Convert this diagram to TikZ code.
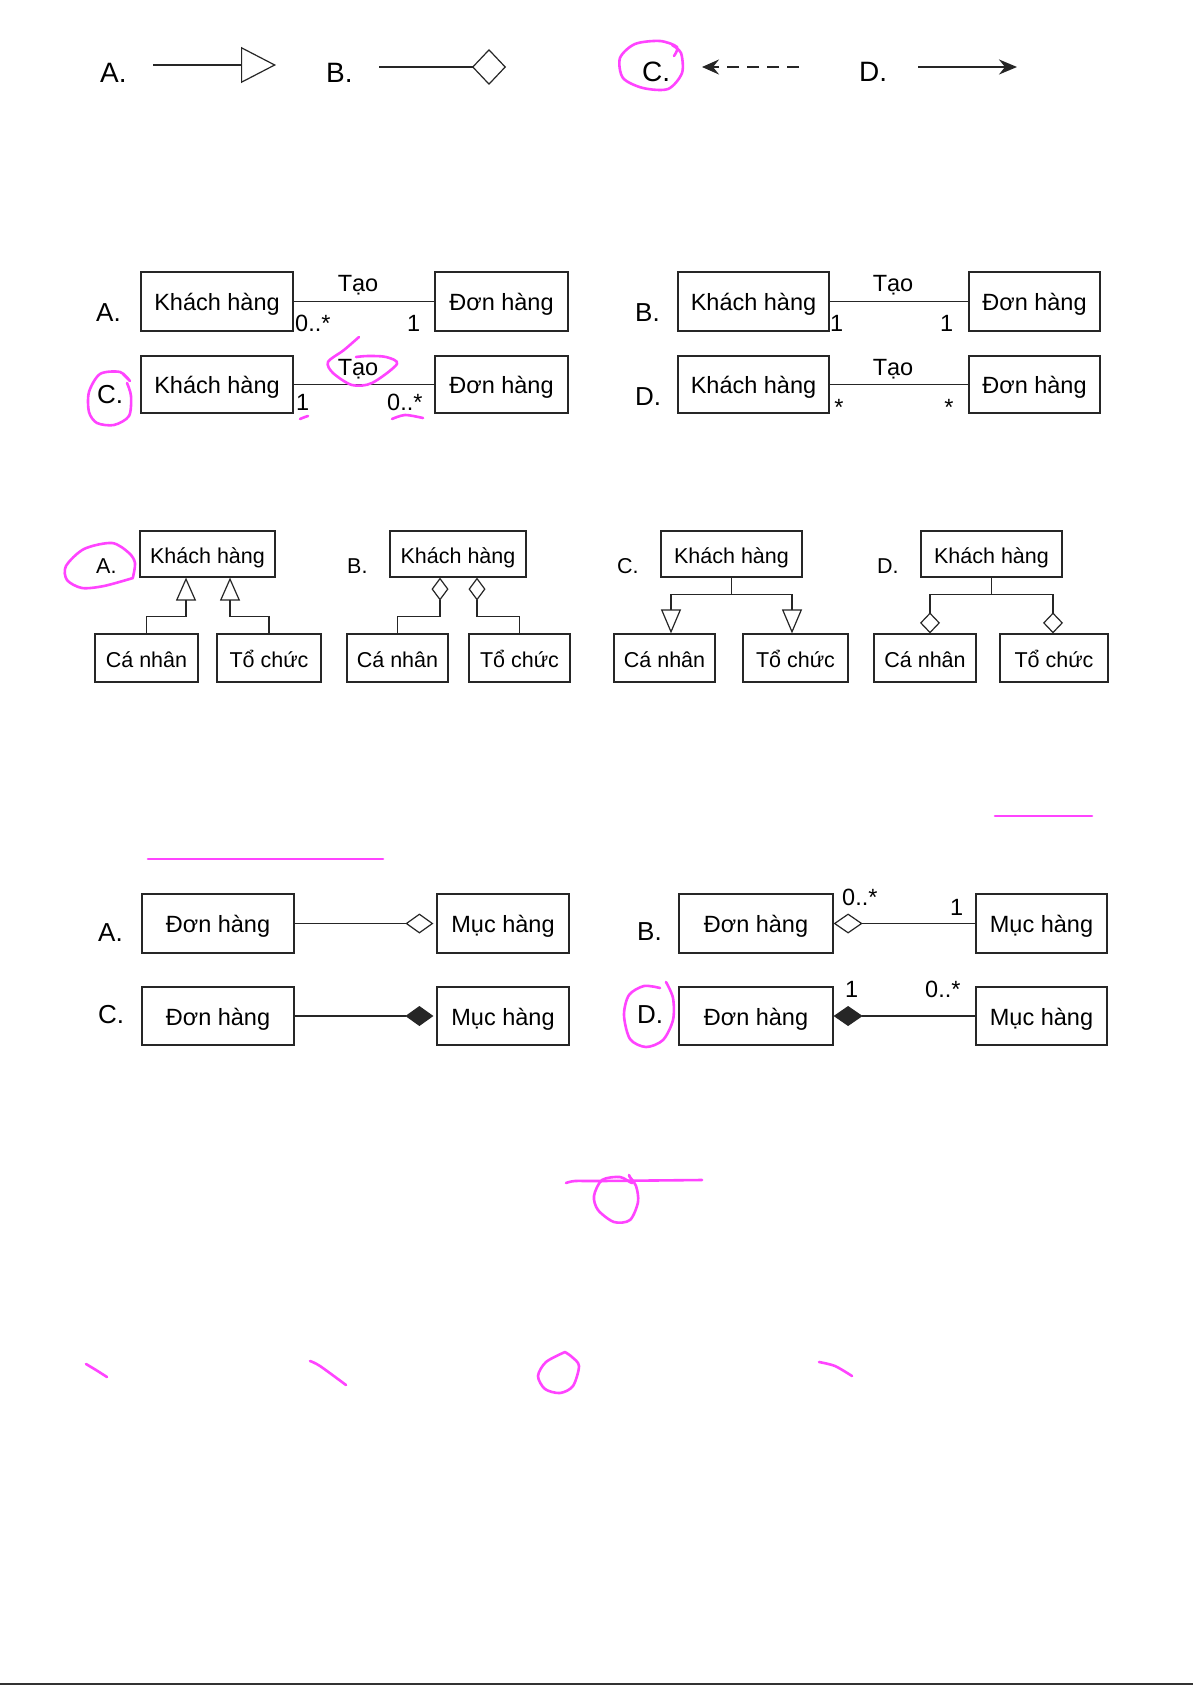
\documentclass[tikz,border=0pt]{standalone}
\usepackage{fontspec}
\setmainfont{Liberation Sans}
\usetikzlibrary{arrows.meta,calc}
\definecolor{penc}{RGB}{255,68,255}
\begin{document}
\begin{tikzpicture}[x=1pt,y=-1pt,
  ln/.style={line width=1.2pt, draw=black!85},
  box/.style={draw=black!85, line width=1.2pt, inner sep=0pt, text height=18pt, text depth=0pt, font=\fontsize{23.5}{28}\selectfont},
  sbox/.style={box, font=\fontsize{21.5}{25}\selectfont},
  lab/.style={anchor=base west, inner sep=0pt, font=\fontsize{26}{30}\selectfont},
  labtop/.style={lab, font=\fontsize{28}{32}\selectfont},
  labs/.style={lab, font=\fontsize{21.5}{25}\selectfont},
  mul/.style={anchor=base west, inner sep=0pt, font=\fontsize{23.5}{28}\selectfont},
  pen/.style={draw=penc, line width=2.6pt, line cap=round, line join=round},
]
\useasboundingbox (0,0) rectangle (1193,1685);
\fill[white] (0,0) rectangle (1193,1685);

% ---------- Row 1 ----------
\node[labtop] (t1a) at (100,83) {A.};
\coordinate (t1as) at (153,65); \coordinate (t1ae) at (276,65);
\draw[ln, -{Triangle[open,length=35pt,width=36pt]}] (t1as) -- (t1ae);
\node[labtop] (t1b) at (326,83) {B.};
\coordinate (t1bs) at (379,67); \coordinate (t1be) at (506,67);
\draw[ln, -{Diamond[open,length=34pt,width=36pt]}] (t1bs) -- (t1be);
\node[labtop] (t1c) at (642,82) {C.};
\coordinate (t1cs) at (799,67); \coordinate (t1ce) at (702,67);
\draw[line width=2.4pt, draw=black!85, dash pattern=on 12pt off 8pt, -{Stealth[length=17pt,width=15pt,inset=6pt]}] (t1cs) -- (t1ce);
\node[labtop] (t1d) at (859,82) {D.};
\coordinate (t1ds) at (918,67); \coordinate (t1de) at (1017,67);
\draw[line width=2.4pt, draw=black!85, -{Stealth[length=18pt,width=15pt,inset=6pt]}] (t1ds) -- (t1de);

% ---------- Row 2 ----------
\node[box, minimum width=152pt, minimum height=59pt] (a2k) at (217,301.5) {Khách hàng};
\node[box, minimum width=133pt, minimum height=59pt] (a2d) at (501.5,301.5) {Đơn hàng};
\draw[ln] (a2k) -- (a2d);
\node[mul, anchor=base] (a2t) at (358,292) {Tạo};
\node[mul] (a2m1) at (295,331) {0..*};
\node[mul] (a2m2) at (407,331) {1};
\node[lab] (a2l) at (96,321) {A.};

\node[box, minimum width=151pt, minimum height=59pt] (b2k) at (753.5,301.5) {Khách hàng};
\node[box, minimum width=131pt, minimum height=59pt] (b2d) at (1034.5,301.5) {Đơn hàng};
\draw[ln] (b2k) -- (b2d);
\node[mul, anchor=base] (b2t) at (893,292) {Tạo};
\node[mul] (b2m1) at (830,331) {1};
\node[mul] (b2m2) at (940,331) {1};
\node[lab] (b2l) at (635,321) {B.};

\node[box, minimum width=152pt, minimum height=57pt] (c2k) at (217,384.5) {Khách hàng};
\node[box, minimum width=133pt, minimum height=57pt] (c2d) at (501.5,384.5) {Đơn hàng};
\draw[ln] (c2k) -- (c2d);
\node[mul, anchor=base] (c2t) at (358,375) {Tạo};
\node[mul] (c2m1) at (296,410) {1};
\node[mul] (c2m2) at (387,410) {0..*};
\node[lab] (c2l) at (97,403) {C.};

\node[box, minimum width=151pt, minimum height=57pt] (d2k) at (753.5,384.5) {Khách hàng};
\node[box, minimum width=131pt, minimum height=57pt] (d2d) at (1034.5,384.5) {Đơn hàng};
\draw[ln] (d2k) -- (d2d);
\node[mul, anchor=base] (d2t) at (893,375) {Tạo};
\node[mul, anchor=base] (d2m1) at (839,415) {*};
\node[mul, anchor=base] (d2m2) at (949,415) {*};
\node[lab] (d2l) at (635,405) {D.};

% ---------- Row 3 ----------
\node[sbox, minimum width=135pt, minimum height=46pt] (a3k) at (207.5,554) {Khách hàng};
\node[sbox, minimum width=103pt, minimum height=48pt] (a3c) at (146.5,658) {Cá nhân};
\node[sbox, minimum width=104pt, minimum height=48pt] (a3t) at (269,658) {Tổ chức};
\draw[ln, -{Triangle[open,length=23pt,width=20pt]}] (a3c.north) -- ++(0,-17) -| ([xshift=-21.5pt]a3k.south);
\draw[ln, -{Triangle[open,length=23pt,width=20pt]}] (a3t.north) -- ++(0,-17) -| ([xshift=22.5pt]a3k.south);
\node[labs] (a3l) at (96,573) {A.};

\node[sbox, minimum width=136pt, minimum height=46pt] (b3k) at (458,554) {Khách hàng};
\node[sbox, minimum width=101pt, minimum height=48pt] (b3c) at (397.5,658) {Cá nhân};
\node[sbox, minimum width=101pt, minimum height=48pt] (b3t) at (519.5,658) {Tổ chức};
\draw[ln, -{Diamond[open,length=23pt,width=17pt]}] (b3c.north) -- ++(0,-17) -| ([xshift=-18pt]b3k.south);
\draw[ln, -{Diamond[open,length=23pt,width=17pt]}] (b3t.north) -- ++(0,-17) -| ([xshift=19pt]b3k.south);
\node[labs] (b3l) at (347,573) {B.};

\node[sbox, minimum width=141pt, minimum height=46pt] (c3k) at (731.5,554) {Khách hàng};
\node[sbox, minimum width=101pt, minimum height=48pt] (c3c) at (664.5,658) {Cá nhân};
\node[sbox, minimum width=105pt, minimum height=48pt] (c3t) at (795.5,658) {Tổ chức};
\draw[ln, -{Triangle[open,length=24pt,width=20pt]}] (c3k.south) -- ++(0,17) -| ([xshift=6.5pt]c3c.north);
\draw[ln, -{Triangle[open,length=24pt,width=20pt]}] (c3k.south) -- ++(0,17) -| ([xshift=-3.5pt]c3t.north);
\node[labs] (c3l) at (617,573) {C.};

\node[sbox, minimum width=141pt, minimum height=46pt] (d3k) at (991.5,554) {Khách hàng};
\node[sbox, minimum width=102pt, minimum height=48pt] (d3c) at (925,658) {Cá nhân};
\node[sbox, minimum width=108pt, minimum height=48pt] (d3t) at (1054,658) {Tổ chức};
\draw[ln, -{Diamond[open,length=21pt,width=20pt]}] (d3k.south) -- ++(0,17) -| ([xshift=5pt]d3c.north);
\draw[ln, -{Diamond[open,length=21pt,width=20pt]}] (d3k.south) -- ++(0,17) -| ([xshift=-1pt]d3t.north);
\node[labs] (d3l) at (877,573) {D.};

% ---------- Row 4 ----------
\node[box, minimum width=152pt, minimum height=59pt] (a4d) at (218,923.5) {Đơn hàng};
\node[box, minimum width=132pt, minimum height=59pt] (a4m) at (503,923.5) {Mục hàng};
\draw[ln, -{Diamond[open,length=28pt,width=20pt]}] (a4d) -- ([xshift=-3pt]a4m.west);
\node[lab] (a4l) at (98,941) {A.};

\node[box, minimum width=152pt, minimum height=58pt] (c4d) at (218,1016) {Đơn hàng};
\node[box, minimum width=132pt, minimum height=58pt] (c4m) at (503,1016) {Mục hàng};
\draw[ln, -{Diamond[length=28pt,width=20pt]}] (c4d) -- ([xshift=-3pt]c4m.west);
\node[lab] (c4l) at (98,1023) {C.};

\node[box, minimum width=154pt, minimum height=59pt] (b4d) at (756,923.5) {Đơn hàng};
\node[box, minimum width=131pt, minimum height=59pt] (b4m) at (1041.5,923.5) {Mục hàng};
\draw[ln, {Diamond[open,length=29pt,width=20pt]}-] (b4d) -- (b4m);
\node[mul] (b4m1) at (842,905) {0..*};
\node[mul] (b4m2) at (950,915) {1};
\node[lab] (b4l) at (637,940) {B.};

\node[box, minimum width=154pt, minimum height=58pt] (d4d) at (756,1016) {Đơn hàng};
\node[box, minimum width=131pt, minimum height=58pt] (d4m) at (1041.5,1016) {Mục hàng};
\draw[ln, {Diamond[length=29pt,width=20pt]}-] (d4d) -- (d4m);
\node[mul] (d4m1) at (845,997) {1};
\node[mul] (d4m2) at (925,997) {0..*};
\node[lab] (d4l) at (637,1023) {D.};

% ---------- pen annotations ----------
\draw[pen] plot[smooth] coordinates {(674,56) (677,47) (660,41) (635,44) (620,58) (623,78) (643,88) (668,89) (682,73) (681,53) (672,45)};
\draw[pen] plot[smooth] coordinates {(123,374) (130,381) (120,372) (100,374) (89,392) (89,412) (97,423) (114,425) (129,416) (131,396) (127,383)};
\draw[pen] plot[smooth] coordinates {(359,337) (344,350) (328,362) (333,373) (352,385) (372,383) (397,364) (386,357) (368,356) (356,357)};
\draw[pen] plot[smooth] coordinates {(300,419) (305,417) (308,416)};
\draw[pen] plot[smooth] coordinates {(392,419) (405,415) (423,418)};
\draw[pen] plot[smooth] coordinates {(133,577) (135,563) (129,553) (112,543) (84,549) (66,566) (67,580) (82,588) (104,586) (133,578)};
\draw[pen] (148,859) -- (383,859);
\draw[pen] (995,816) -- (1092,816);
\draw[pen] plot[smooth] coordinates {(666,982) (673,998) (673,1020) (663,1040) (646,1047) (630,1039) (624,1015) (629,995) (644,986) (660,988)};
\draw[pen] plot[smooth] coordinates {(566,1183) (575,1181) (600,1181) (702,1180)};
\draw[pen] plot[smooth] coordinates {(629,1175) (632,1183) (620,1177) (602,1180) (594,1196) (598,1210) (614,1222) (630,1220) (638,1202) (636,1186) (629,1176)};
\draw[pen] plot[smooth] coordinates {(86,1364) (96,1370) (107,1377)};
\draw[pen] plot[smooth] coordinates {(310,1361) (320,1366) (346,1385)};
\draw[pen] plot[smooth] coordinates {(565,1352) (546,1362) (538,1376) (545,1389) (560,1393) (573,1386) (579,1366) (572,1357) (565,1352)};
\draw[pen] plot[smooth] coordinates {(819,1362) (835,1366) (852,1376)};

% bottom edge
\draw[line width=1.5pt, draw=black!80] (0,1684) -- (1193,1684);
\end{tikzpicture}
\end{document}
